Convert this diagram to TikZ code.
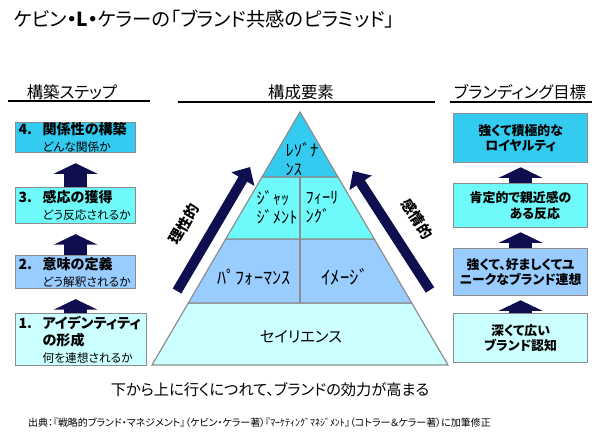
\documentclass[tikz,border=0pt]{standalone}
\usepackage{fontspec}
\setmainfont{Noto Sans CJK JP}[RawFeature=+palt]
\usetikzlibrary{arrows.meta}

\definecolor{deepcyan}{RGB}{51,204,240}
\definecolor{midcyan}{RGB}{110,250,250}
\definecolor{paleblue}{RGB}{153,204,255}
\definecolor{palecyan}{RGB}{204,255,255}
\definecolor{boxline}{RGB}{140,140,140}
\definecolor{navyblue}{RGB}{15,15,80}

\newcommand{\stephead}[2]{{\fontsize{12}{14}\selectfont\bfseries\makebox[0.72cm][l]{#1}#2}}
\newcommand{\stepsub}[1]{\hspace*{0.72cm}{#1}}

\begin{document}
\begin{tikzpicture}[x=0.03cm, y=-0.03cm,
  stepbox/.style={draw=boxline, line width=1pt, anchor=north west, inner xsep=0.09cm,
    inner ysep=0pt, align=left, text width=3.42cm, minimum width=3.6cm,
    font=\fontsize{10}{14.5}\selectfont},
  goalbox/.style={draw=boxline, line width=1pt, anchor=north west, inner sep=0pt,
    align=center, minimum width=4.02cm, font=\bfseries\fontsize{11}{13.5}\selectfont},
  layer/.style={draw=boxline, line width=1pt},
  pyrlabel/.style={align=left, inner sep=0pt, font=\fontsize{14}{16}\selectfont},
  header/.style={anchor=base, font=\fontsize{14}{16}\selectfont},
  blockup/.style={navyblue, line width=19pt, -{Triangle[width=37pt,length=9pt]}},
  slantarrow/.style={navyblue, line width=8.5pt, -{Triangle[width=22pt,length=12pt]}},
  sidelabel/.style={font=\bfseries\fontsize{12.5}{15}\selectfont, inner sep=0pt}]

\useasboundingbox (0,0) rectangle (600,441);

% Title
\node[anchor=west, font=\fontsize{16.5}{19}\selectfont] (title) at (10,19)
  {ケビン{\bfseries ・L・}ケラーの「ブランド共感のピラミッド」};

% Column headers
\node[header] (hstep) at (72,98) {構築ステップ};
\node[header] (hpart) at (301,98) {構成要素};
\node[header] (hgoal) at (520,98) {ブランディング目標};
\draw[line width=1.2pt] (8,101) -- (150,101);
\draw[line width=1.2pt] (178,102) -- (435,102);
\draw[line width=1.2pt] (450,102) -- (592,102);

% Pyramid layers
\draw[layer, fill=palecyan] (188.3,303) -- (411.7,303) -- (448,365) -- (152,365) -- cycle;
\draw[layer, fill=paleblue] (225.7,239) -- (374.3,239) -- (411.7,303) -- (188.3,303) -- cycle;
\draw[layer, fill=midcyan] (262,177) -- (338,177) -- (374.3,239) -- (225.7,239) -- cycle;
\draw[layer, fill=deepcyan] (300,112) -- (338,177) -- (262,177) -- cycle;
\draw[layer] (300,177) -- (300,303);

% Pyramid texts
\node[pyrlabel] (reso) at (302,159) {ﾚｿﾞﾅ\\ﾝｽ};
\node[pyrlabel] (judg) at (277,207) {ｼﾞｬｯ\\ｼﾞﾒﾝﾄ};
\node[pyrlabel] (feel) at (322,207) {ﾌｨｰﾘ\\ﾝｸﾞ};
\node[pyrlabel, font=\fontsize{15.5}{18}\selectfont] (perf) at (254,277) {ﾊﾟﾌｫｰﾏﾝｽ};
\node[pyrlabel, font=\fontsize{16}{18}\selectfont] (imag) at (345,277) {ｲﾒｰｼﾞ};
\node[pyrlabel, font=\fontsize{13}{16}\selectfont] (sali) at (301,337) {セイリエンス};

% Rational / emotional arrows
\coordinate (ra0) at (177,291);
\coordinate (ra1) at (250,167);
\coordinate (ea0) at (430,290);
\coordinate (ea1) at (353,171);
\draw[slantarrow] (ra0) -- (ra1);
\draw[slantarrow] (ea0) -- (ea1);
\node[sidelabel, rotate=60] (rlabel) at (184,224) {理性的};
\node[sidelabel, rotate=-57] (elabel) at (417,219) {感情的};

% Building steps
\node[stepbox, fill=deepcyan, minimum height=0.9cm] (s4) at (15,122)
  {\stephead{4.}{関係性の構築}\\\stepsub{どんな関係か}};
\node[stepbox, fill=midcyan, minimum height=1.08cm] (s3) at (15,187)
  {\stephead{3.}{感応の獲得}\\\stepsub{どう反応されるか}};
\node[stepbox, fill=paleblue, minimum height=0.99cm] (s2) at (15,255)
  {\stephead{2.}{意味の定義}\\\stepsub{どう解釈されるか}};
\node[stepbox, fill=palecyan, minimum height=1.56cm, minimum width=3.93cm,
  text width=3.75cm] (s1) at (15,313)
  {\stephead{1.}{アイデンティティ}\\\stepsub{\fontsize{12}{14}\selectfont\bfseries の形成}\\\stepsub{何を連想されるか}};

\draw[blockup, shorten >=8.5pt] (s1.north -| s2.south) -- (s2.south);
\draw[blockup, shorten >=8.5pt] (s2.north) -- (s3.south);
\draw[blockup, shorten >=8.5pt] (s3.north) -- (s4.south);

% Branding goals
\node[goalbox, fill=deepcyan, minimum height=1.47cm] (g4) at (453,113)
  {強くて積極的な\\ロイヤルティ};
\node[goalbox, fill=midcyan, minimum height=1.32cm] (g3) at (453,183)
  {肯定的で親近感の\\\hspace*{2.2em}ある反応};
\node[goalbox, fill=paleblue, minimum height=1.41cm] (g2) at (453,248)
  {強くて、好ましくてユ\\ニークなブランド連想};
\node[goalbox, fill=palecyan, minimum height=1.47cm] (g1) at (453,313)
  {深くて広い\\ブランド認知};

\draw[blockup, shorten >=3.5pt] (g1.north) -- (g2.south);
\draw[blockup, shorten >=3.5pt] (g2.north) -- (g3.south);
\draw[blockup, shorten >=3.5pt] (g3.north) -- (g4.south);

% Caption and source
\node[font=\fontsize{13}{16}\selectfont] (caption) at (270,390)
  {下から上に行くにつれて、ブランドの効力が高まる};
\node[anchor=west, font=\fontsize{8.5}{10}\selectfont] (source) at (24,423)
  {出典：『戦略的ブランド・マネジメント』（ケビン・ケラー著）『ﾏｰｹﾃｨﾝｸﾞﾏﾈｼﾞﾒﾝﾄ』（コトラー＆ケラー著）に加筆修正};

\end{tikzpicture}
\end{document}
